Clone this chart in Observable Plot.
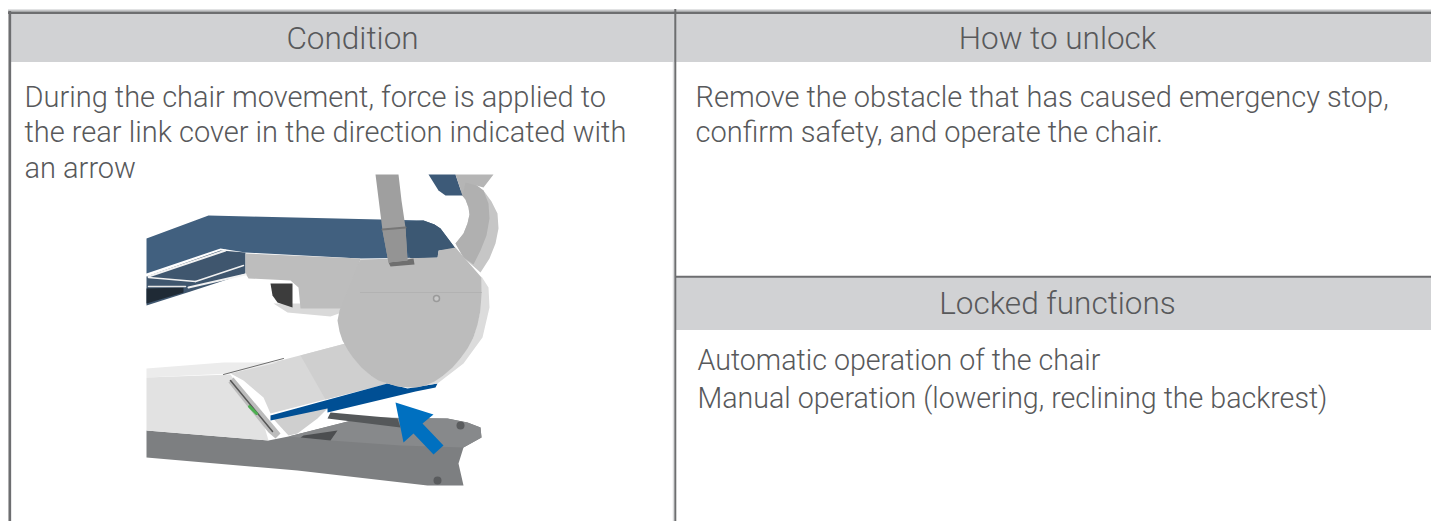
<!DOCTYPE html>
<html><head><meta charset="utf-8">
<style>html,body{margin:0;padding:0;background:#fff;overflow:hidden}svg{display:block}</style>
<script src="https://cdn.jsdelivr.net/npm/d3@7"></script>
<script src="https://cdn.jsdelivr.net/npm/@observablehq/plot@0.6"></script>
</head><body><script>
const headers = [
  {label:"Condition", cx:352, cy:38},
  {label:"How to unlock", cx:1057, cy:38},
  {label:"Locked functions", cx:1057, cy:303}
];
const bodyLines = [
  {label:"During the chair movement, force is applied to", lx:24, cy:97},
  {label:"the rear link cover in the direction indicated with", lx:24, cy:132},
  {label:"an arrow", lx:24, cy:168},
  {label:"Remove the obstacle that has caused emergency stop,", lx:695, cy:97},
  {label:"confirm safety, and operate the chair.", lx:695, cy:132}
];
const lockedLines = [
  {label:"Automatic operation of the chair", lx:697, cy:360},
  {label:"Manual operation (lowering, reclining the backrest)", lx:697, cy:398}
];
const bands = [
  {x1:10, x2:1431, y1:13, y2:62},
  {x1:676, x2:1431, y1:277, y2:330}
];
const paleHRules = [{x1:8, x2:1431, y:10, w:2}];
const paleVRules = [{x:672.8, y1:11, y2:521, w:1}];
const hRules = [
  {x1:8, x2:1431, y:12.2, w:2.4},
  {x1:675, x2:1431, y:276.3, w:2}
];
const vRules = [
  {x:9.3, y1:11, y2:521, w:2.7},
  {x:674.8, y1:9, y2:521, w:2}
];

// chair illustration outlines
const base = [[146,430],[268,440],[288,436],[363,417],[447,418],[467,422],[480,427],[481,437],[463,447],[458,463],[463,485],[427,485],[297,470],[146,457]];
const baseBack = [[288,436],[363,417],[447,418],[467,422],[480,427],[481,437],[463,447],[400,445],[330,440]];
const baseShade = [[330,412],[397,418],[400,427],[327,418]];
const baseShade2 = [[303,435],[337,430],[330,440],[300,437]];
const cushion = [[146,238],[208,215],[423,220],[434,224],[440,228],[455,248],[438,250],[437,257],[360,258],[245,252],[220,248],[146,273]];
const cushionFront = [[395,222],[423,220],[434,224],[440,228],[455,248],[438,250],[437,257],[410,258]];
const underFrame = [[146,276],[220,250],[245,252],[245,273],[190,291],[146,305]];
const underDark = [[146,288],[183,287],[183,292],[146,303]];
const bracketLow = [[273,303],[287,312],[330,316],[347,310],[340,303]];
const bracket = [[245,253],[245,273],[248,278],[290,280],[298,287],[300,308],[348,308],[360,258]];
const darkBox = [[270,283],[292,283],[292,307],[277,302],[272,295]];
const arm = [[230,373],[345,343],[353,358],[370,375],[387,383],[270,413],[263,397],[243,380]];
const armShade = [[300,355],[345,343],[353,358],[370,375],[387,383],[325,399]];
const housingTop = [[146,368],[223,362],[277,362],[230,373],[146,377]];
const housing = [[146,377],[230,374],[263,423],[268,440],[146,430]];
const sidePanel = [[228,382],[233,377],[280,433],[275,438],[268,432]];
const strut = [[270,415],[327,408],[317,418],[297,433],[288,435],[277,423]];
const cover = [[270,415],[387,383],[407,388],[437,383],[435,387],[415,391],[327,412],[327,408],[270,420]];
const rim = [[481,276],[488,287],[489,307],[482,337],[463,363],[437,383],[425,385],[443,375],[460,358],[473,337],[480,310]];
const disc = [[357,265],[350,283],[343,300],[339,310],[337,320],[339,331],[342,340],[347,349],[353,358],[361,367],[370,375],[378,380],[387,383],[397,386],[407,387],[416,387],[425,385],[434,381],[443,375],[452,367],[460,358],[467,348],[473,337],[477,324],[480,310],[481,293],[481,277],[455,247],[438,250],[437,257],[360,259]];
const arch = [[463,180],[475,184],[483,190],[491,201],[497,213],[498,228],[495,243],[489,258],[480,272],[463,257],[455,243],[463,233],[467,223],[469,214],[468,207],[465,199],[460,193]];
const archInner = [[463,180],[475,184],[483,190],[488,203],[489,218],[486,235],[480,250],[473,264],[463,257],[455,243],[463,233],[467,223],[469,214],[468,207],[465,199],[460,193]];
const headBlue = [[428,174],[455,174],[462,195],[445,195],[438,190]];
const headGrey = [[455,174],[493,174],[483,187],[465,182],[462,195]];
const post = [[375,174],[398,174],[401,200],[405,227],[407,260],[388,262],[382,230],[377,190]];
const collar = [[382,230],[405,227],[407,260],[388,262]];
const nut = [[388,262],[413,258],[414,264],[390,266]];
const arrow = [[395,402],[433,414],[422,423],[443,445],[433,454],[413,433],[403,442]];

const shapes = [
  [arch,"#c6c6c6"],[archInner,"#b0b0b0"],[headBlue,"#3d5a78"],[headGrey,"#b5b5b5"],
  [underFrame,"#3f566e"],[underDark,"#1f2a35"],
  [cushion,"#41607f"],[cushionFront,"#3c5873"],[bracketLow,"#d9d9d9"],[darkBox,"#3c3c3c"],[bracket,"#bdbdbd"],
  [base,"#7d7f81"],[baseBack,"#87898b"],[baseShade,"#55585a"],[baseShade2,"#4c4e50"],
  [strut,"#cfcfcf"],[arm,"#d8d8d8"],[armShade,"#cfcfcf"],[housingTop,"#ececec"],[housing,"#e2e2e2"],[sidePanel,"#bcbcbc"],
  [cover,"#004f94"],[rim,"#dcdcdc"],[disc,"#bcbcbc"],[nut,"#6f6f6f"],[post,"#9f9f9f"],[collar,"#949494"],[arrow,"#0070c0"]
];
const frameLines = [
  [[[148,276],[225,250]],"#f2f2f2",2],
  [[[148,277],[195,281]],"#f2f2f2",1.5],
  [[[195,281],[243,265]],"#f2f2f2",1.5],
  [[[148,286],[185,286]],"#e6e6e6",1.5],
  [[[188,287],[245,274]],"#f2f2f2",2],
  [[[223,374],[283,358]],"#6e6e6e",1],
  [[[382,229],[405,227]],"#777777",2],
  [[[230,380],[272,431]],"#555555",1.5],
  [[[360,292],[481,292]],"#adadad",0.7]
];
const feet = [[460,425],[437,480]];
const screw = [[436,298]];
const led = [[[249,406],[256,413]]];

const T = a => a.map(([x,y]) => ({x,y}));
const poly = ([pts,fill]) => Plot.line(T(pts),{x:"x",y:"y",fill,stroke:"none",curve:"linear-closed"});
const font = 'Roboto, "Liberation Sans", sans-serif';
const label = {text:"label",lineAnchor:"middle",fontFamily:font,fontWeight:300,fill:"#58595b"};

const chart = Plot.plot({
  width:1431, height:521,
  margin:0,
  style:{background:"#fff"},
  x:{axis:null, domain:[0,1431], range:[0,1431]},
  y:{axis:null, domain:[0,521], range:[0,521]},
  marks:[
    Plot.rectY(bands,{x1:"x1",x2:"x2",y1:"y1",y2:"y2",fill:"#d1d2d4"}),
    Plot.ruleY(paleHRules,{x1:"x1",x2:"x2",y:"y",stroke:"#c4c5c7",strokeWidth:"w"}),
    Plot.ruleX(paleVRules,{x:"x",y1:"y1",y2:"y2",stroke:"#d4d5d7",strokeWidth:"w"}),
    Plot.ruleY(hRules,{x1:"x1",x2:"x2",y:"y",stroke:"#6d6e70",strokeWidth:"w"}),
    Plot.ruleX(vRules,{x:"x",y1:"y1",y2:"y2",stroke:"#6d6e70",strokeWidth:"w"}),
    Plot.text(headers,{x:"cx",y:"cy",textAnchor:"middle",fontSize:31.5,...label}),
    Plot.text(bodyLines,{x:"lx",y:"cy",textAnchor:"start",fontSize:29,...label}),
    Plot.text(lockedLines,{x:"lx",y:"cy",textAnchor:"start",fontSize:28.6,...label}),
    ...shapes.map(poly),
    ...frameLines.map(([pts,c,w]) => Plot.line(T(pts),{x:"x",y:"y",stroke:c,strokeWidth:w})),
    ...led.map(pts => Plot.line(T(pts),{x:"x",y:"y",stroke:"#4caf50",strokeWidth:3})),
    Plot.dot(T(feet),{x:"x",y:"y",r:4,fill:"#5a5c5e"}),
    Plot.dot(T(screw),{x:"x",y:"y",r:3,fill:"#c8c8c8",stroke:"#9a9a9a"})
  ]
});
d3.select(chart).selectAll('g[aria-label="line"],g[aria-label="dot"]').style("filter","blur(0.7px)");
document.body.appendChild(chart);
</script></body></html>
